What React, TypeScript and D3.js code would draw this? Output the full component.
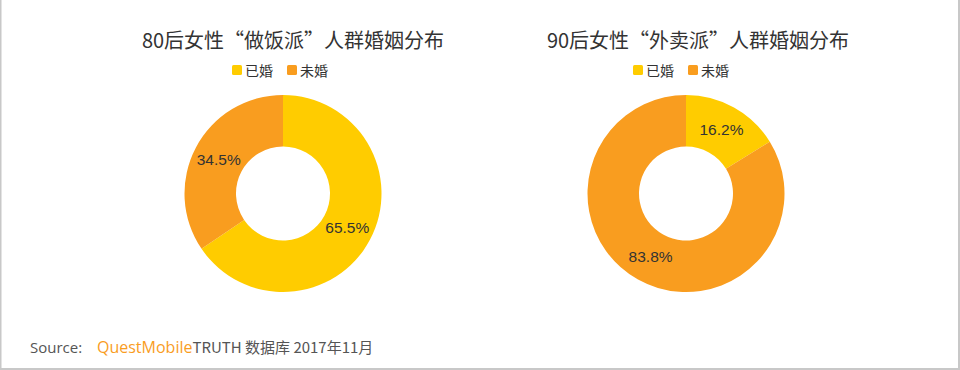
import { useEffect, useRef } from "react";
import * as d3 from "d3";

const CATEGORIES = ["已婚", "未婚"];
const COLORS = ["#ffcc00", "#f99d1f"];

const TITLES = ["80后女性“做饭派”人群婚姻分布", "90后女性“外卖派”人群婚姻分布"];
const VALUES_80 = [65.5, 34.5];
const VALUES_90 = [16.2, 83.8];

const W = 960;
const H = 370;
const FONT = "'Noto Sans CJK SC', 'Noto Sans', sans-serif";

type Panel = { title: string; values: number[]; cx: number; titleX: number; legendX: number };

const PANELS: Panel[] = [
  { title: TITLES[0], values: VALUES_80, cx: 283, titleX: 293, legendX: 232 },
  { title: TITLES[1], values: VALUES_90, cx: 686, titleX: 698, legendX: 633 },
];

function draw(svgEl: SVGSVGElement) {
  const svg = d3.select(svgEl);
  svg.selectAll("*").remove();

  svg.append("rect").attr("width", W).attr("height", H).attr("fill", "#fff");

  // 枠線（左・右・下）
  svg.append("path")
    .attr("d", `M0.5,0 V${H - 1} H${W - 1} V0`)
    .attr("fill", "none")
    .attr("stroke", "#c8c8c8")
    .attr("stroke-width", 2);

  const pie = d3.pie<number>().sort(null).value((d) => d);
  const arc = d3.arc<d3.PieArcDatum<number>>().innerRadius(47).outerRadius(98.5);
  const cy = 193.5;

  PANELS.forEach((p) => {
    svg.append("text")
      .attr("x", p.titleX).attr("y", 48)
      .attr("text-anchor", "middle")
      .attr("font-family", FONT)
      .attr("font-size", 20)
      .attr("fill", "#333")
      .text(p.title);

    // 凡例
    const lg = svg.append("g").attr("transform", `translate(${p.legendX},0)`);
    CATEGORIES.forEach((c, i) => {
      const x = i * 55;
      lg.append("rect")
        .attr("x", x).attr("y", 65)
        .attr("width", 10).attr("height", 10)
        .attr("rx", 1.5)
        .attr("fill", COLORS[i]);
      lg.append("text")
        .attr("x", x + 13).attr("y", 76)
        .attr("font-family", FONT)
        .attr("font-size", 14)
        .attr("fill", "#333")
        .text(c);
    });

    const g = svg.append("g").attr("transform", `translate(${p.cx},${cy})`);
    const arcs = pie(p.values);
    g.selectAll("path.slice")
      .data(arcs)
      .join("path")
      .attr("class", "slice")
      .attr("d", arc)
      .attr("fill", (_, i) => COLORS[i]);

    g.selectAll("text.lbl")
      .data(arcs)
      .join("text")
      .attr("class", "lbl")
      .attr("transform", (d) => `translate(${arc.centroid(d)})`)
      .attr("text-anchor", "middle")
      .attr("dy", "0.35em")
      .attr("font-family", "Arial, 'Liberation Sans', sans-serif")
      .attr("font-size", 15.5)
      .attr("fill", "#333")
      .text((d) => `${d.data.toFixed(1)}%`);
  });

  // 出典
  const src = svg.append("text")
    .attr("x", 30).attr("y", 353)
    .attr("font-family", "'Open Sans', 'Noto Sans CJK SC', sans-serif")
    .attr("font-size", 15)
    .attr("fill", "#555");
  src.append("tspan").text("Source:");
  src.append("tspan").attr("x", 97).attr("fill", "#f99d1f").attr("font-size", 16).text("QuestMobile");
  src.append("tspan").attr("font-family", FONT).text("TRUTH 数据库 2017年11月");
}

export default function App() {
  const ref = useRef<SVGSVGElement>(null);
  useEffect(() => {
    if (ref.current) draw(ref.current);
  }, []);
  return (
    <div style={{ position: "fixed", left: 0, top: 0 }}>
      <svg ref={ref} width={W} height={H} style={{ display: "block" }} />
    </div>
  );
}
